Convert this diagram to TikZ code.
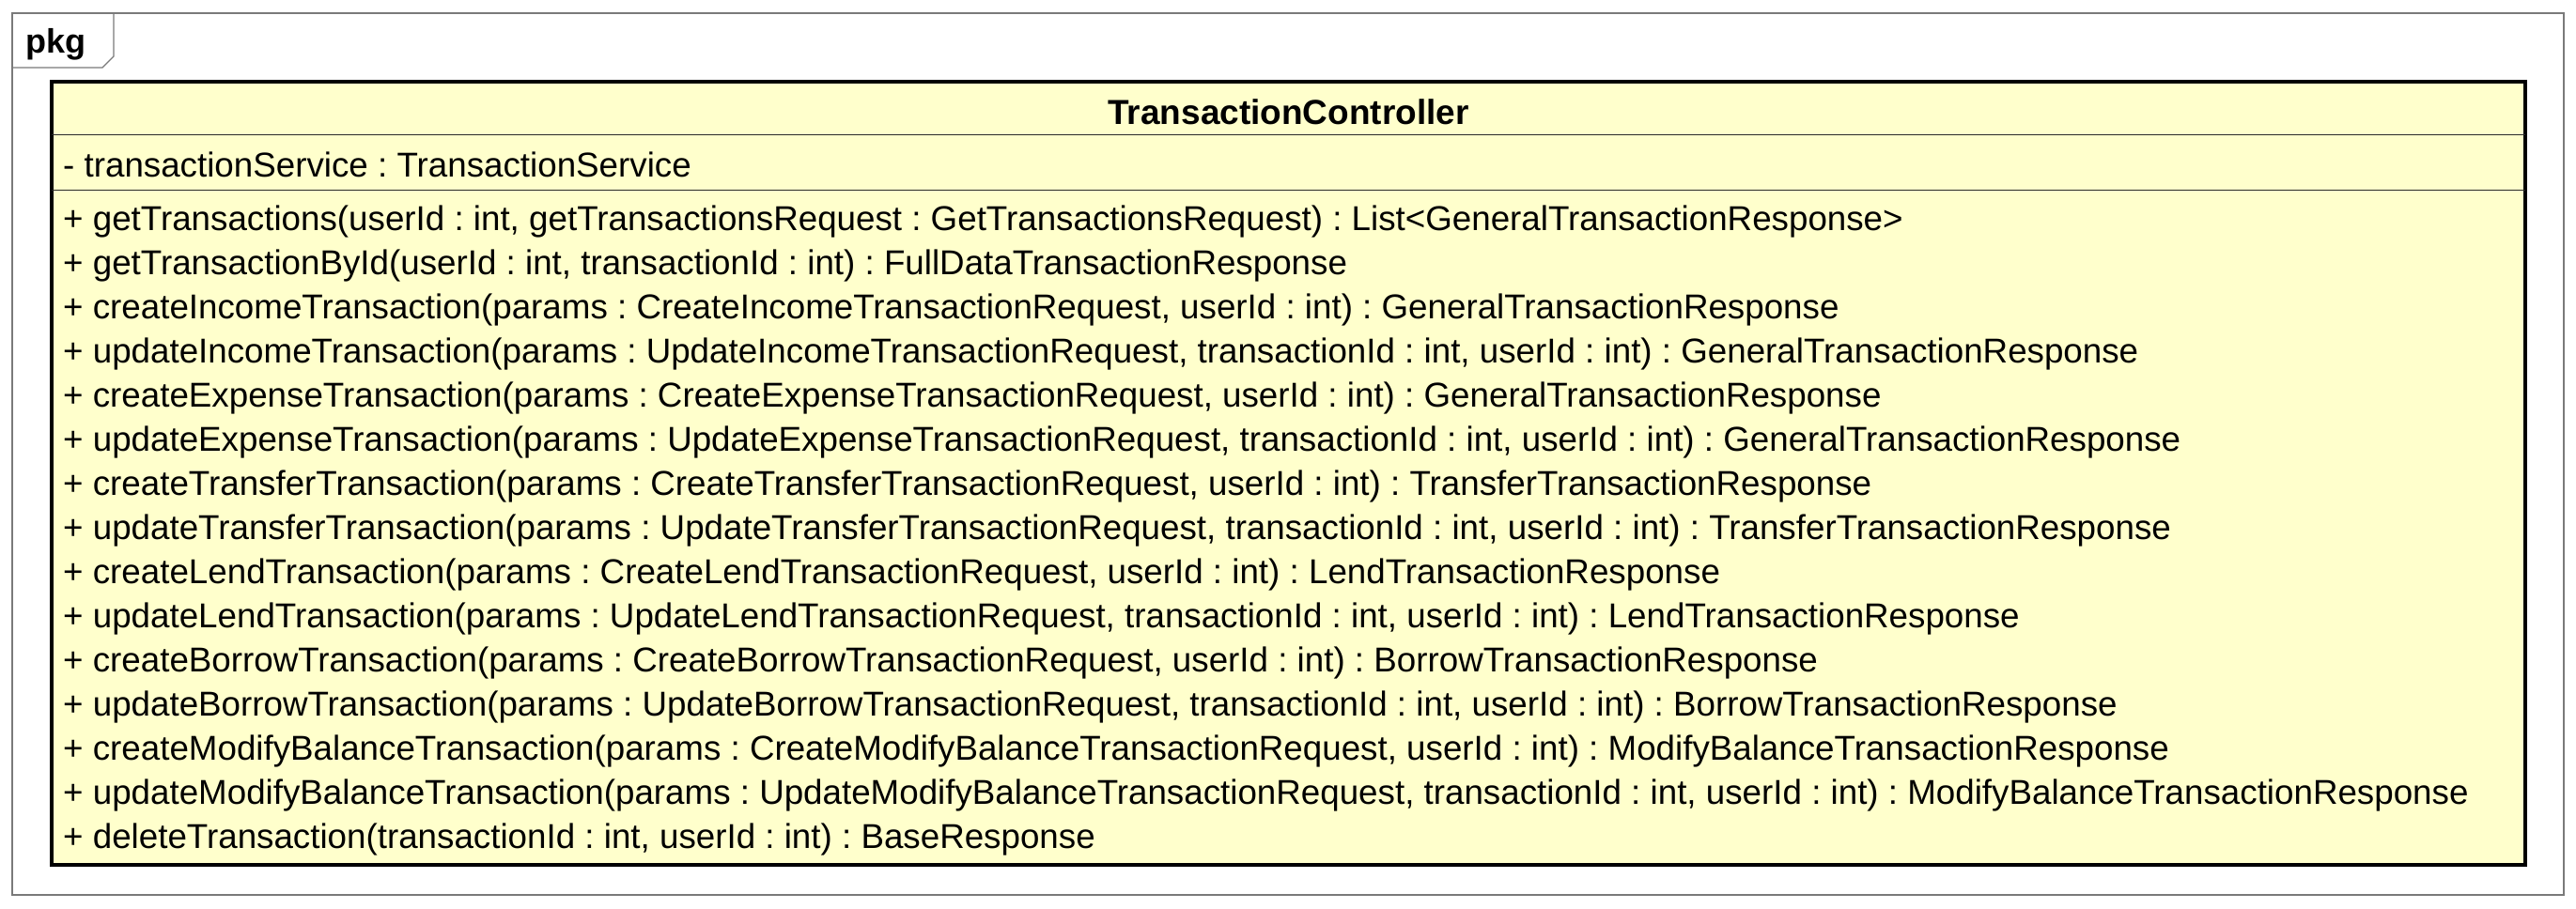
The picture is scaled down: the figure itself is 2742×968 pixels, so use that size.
\documentclass[tikz,border=0pt]{standalone}
\usepackage{fontspec}
\setmainfont{Liberation Sans}
\frenchspacing
\definecolor{classfill}{HTML}{FFFFCC}
\definecolor{framegray}{HTML}{7A7A7A}
\definecolor{divline}{HTML}{2A2A2A}
\begin{document}
\begin{tikzpicture}[x=1pt,y=-1pt,
  member/.style={anchor=base west,inner sep=0pt,font=\fontsize{36.75}{40}\selectfont},
  titletext/.style={anchor=base,inner sep=0pt,font=\fontsize{37}{40}\selectfont\bfseries},
  pkgtext/.style={anchor=base west,inner sep=0pt,font=\fontsize{36}{38}\selectfont\bfseries},
  frameline/.style={draw=framegray,line width=1.3pt},
  classbox/.style={draw=black,fill=classfill,line width=3.5pt},
  divider/.style={draw=divline,line width=1.6pt}]
\useasboundingbox (0,0) rectangle (2742,968);
\fill[white] (0,0) rectangle (2742,968);
% package frame
\draw[frameline] (13,14) rectangle (2729,953);
\draw[frameline] (13,72) -- (109,72) -- (121,60) -- (121,14);
\node[pkgtext] (pkg) at (27,57) {pkg};
% class box
\draw[classbox] (55,87) rectangle (2688,921);
\draw[divider] (55,143.5) -- (2688,143.5);
\draw[divider] (55,202.5) -- (2688,202.5);
\node[titletext] (title) at (1371.5,132.7) {TransactionController};
\node[member] (attr) at (67,189) {- transactionService : TransactionService};
\node[member] (m1) at (67,246) {+ getTransactions(userId : int, getTransactionsRequest : GetTransactionsRequest) : List<GeneralTransactionResponse>};
\node[member] (m2) at (67,292.93) {+ getTransactionById(userId : int, transactionId : int) : FullDataTransactionResponse};
\node[member] (m3) at (67,339.86) {+ createIncomeTransaction(params : CreateIncomeTransactionRequest, userId : int) : GeneralTransactionResponse};
\node[member] (m4) at (67,386.79) {+ updateIncomeTransaction(params : UpdateIncomeTransactionRequest, transactionId : int, userId : int) : GeneralTransactionResponse};
\node[member] (m5) at (67,433.72) {+ createExpenseTransaction(params : CreateExpenseTransactionRequest, userId : int) : GeneralTransactionResponse};
\node[member] (m6) at (67,480.65) {+ updateExpenseTransaction(params : UpdateExpenseTransactionRequest, transactionId : int, userId : int) : GeneralTransactionResponse};
\node[member] (m7) at (67,527.58) {+ createTransferTransaction(params : CreateTransferTransactionRequest, userId : int) : TransferTransactionResponse};
\node[member] (m8) at (67,574.51) {+ updateTransferTransaction(params : UpdateTransferTransactionRequest, transactionId : int, userId : int) : TransferTransactionResponse};
\node[member] (m9) at (67,621.44) {+ createLendTransaction(params : CreateLendTransactionRequest, userId : int) : LendTransactionResponse};
\node[member] (m10) at (67,668.37) {+ updateLendTransaction(params : UpdateLendTransactionRequest, transactionId : int, userId : int) : LendTransactionResponse};
\node[member] (m11) at (67,715.30) {+ createBorrowTransaction(params : CreateBorrowTransactionRequest, userId : int) : BorrowTransactionResponse};
\node[member] (m12) at (67,762.23) {+ updateBorrowTransaction(params : UpdateBorrowTransactionRequest, transactionId : int, userId : int) : BorrowTransactionResponse};
\node[member] (m13) at (67,809.16) {+ createModifyBalanceTransaction(params : CreateModifyBalanceTransactionRequest, userId : int) : ModifyBalanceTransactionResponse};
\node[member] (m14) at (67,856.09) {+ updateModifyBalanceTransaction(params : UpdateModifyBalanceTransactionRequest, transactionId : int, userId : int) : ModifyBalanceTransactionResponse};
\node[member] (m15) at (67,903) {+ deleteTransaction(transactionId : int, userId : int) : BaseResponse};
\end{tikzpicture}
\end{document}
